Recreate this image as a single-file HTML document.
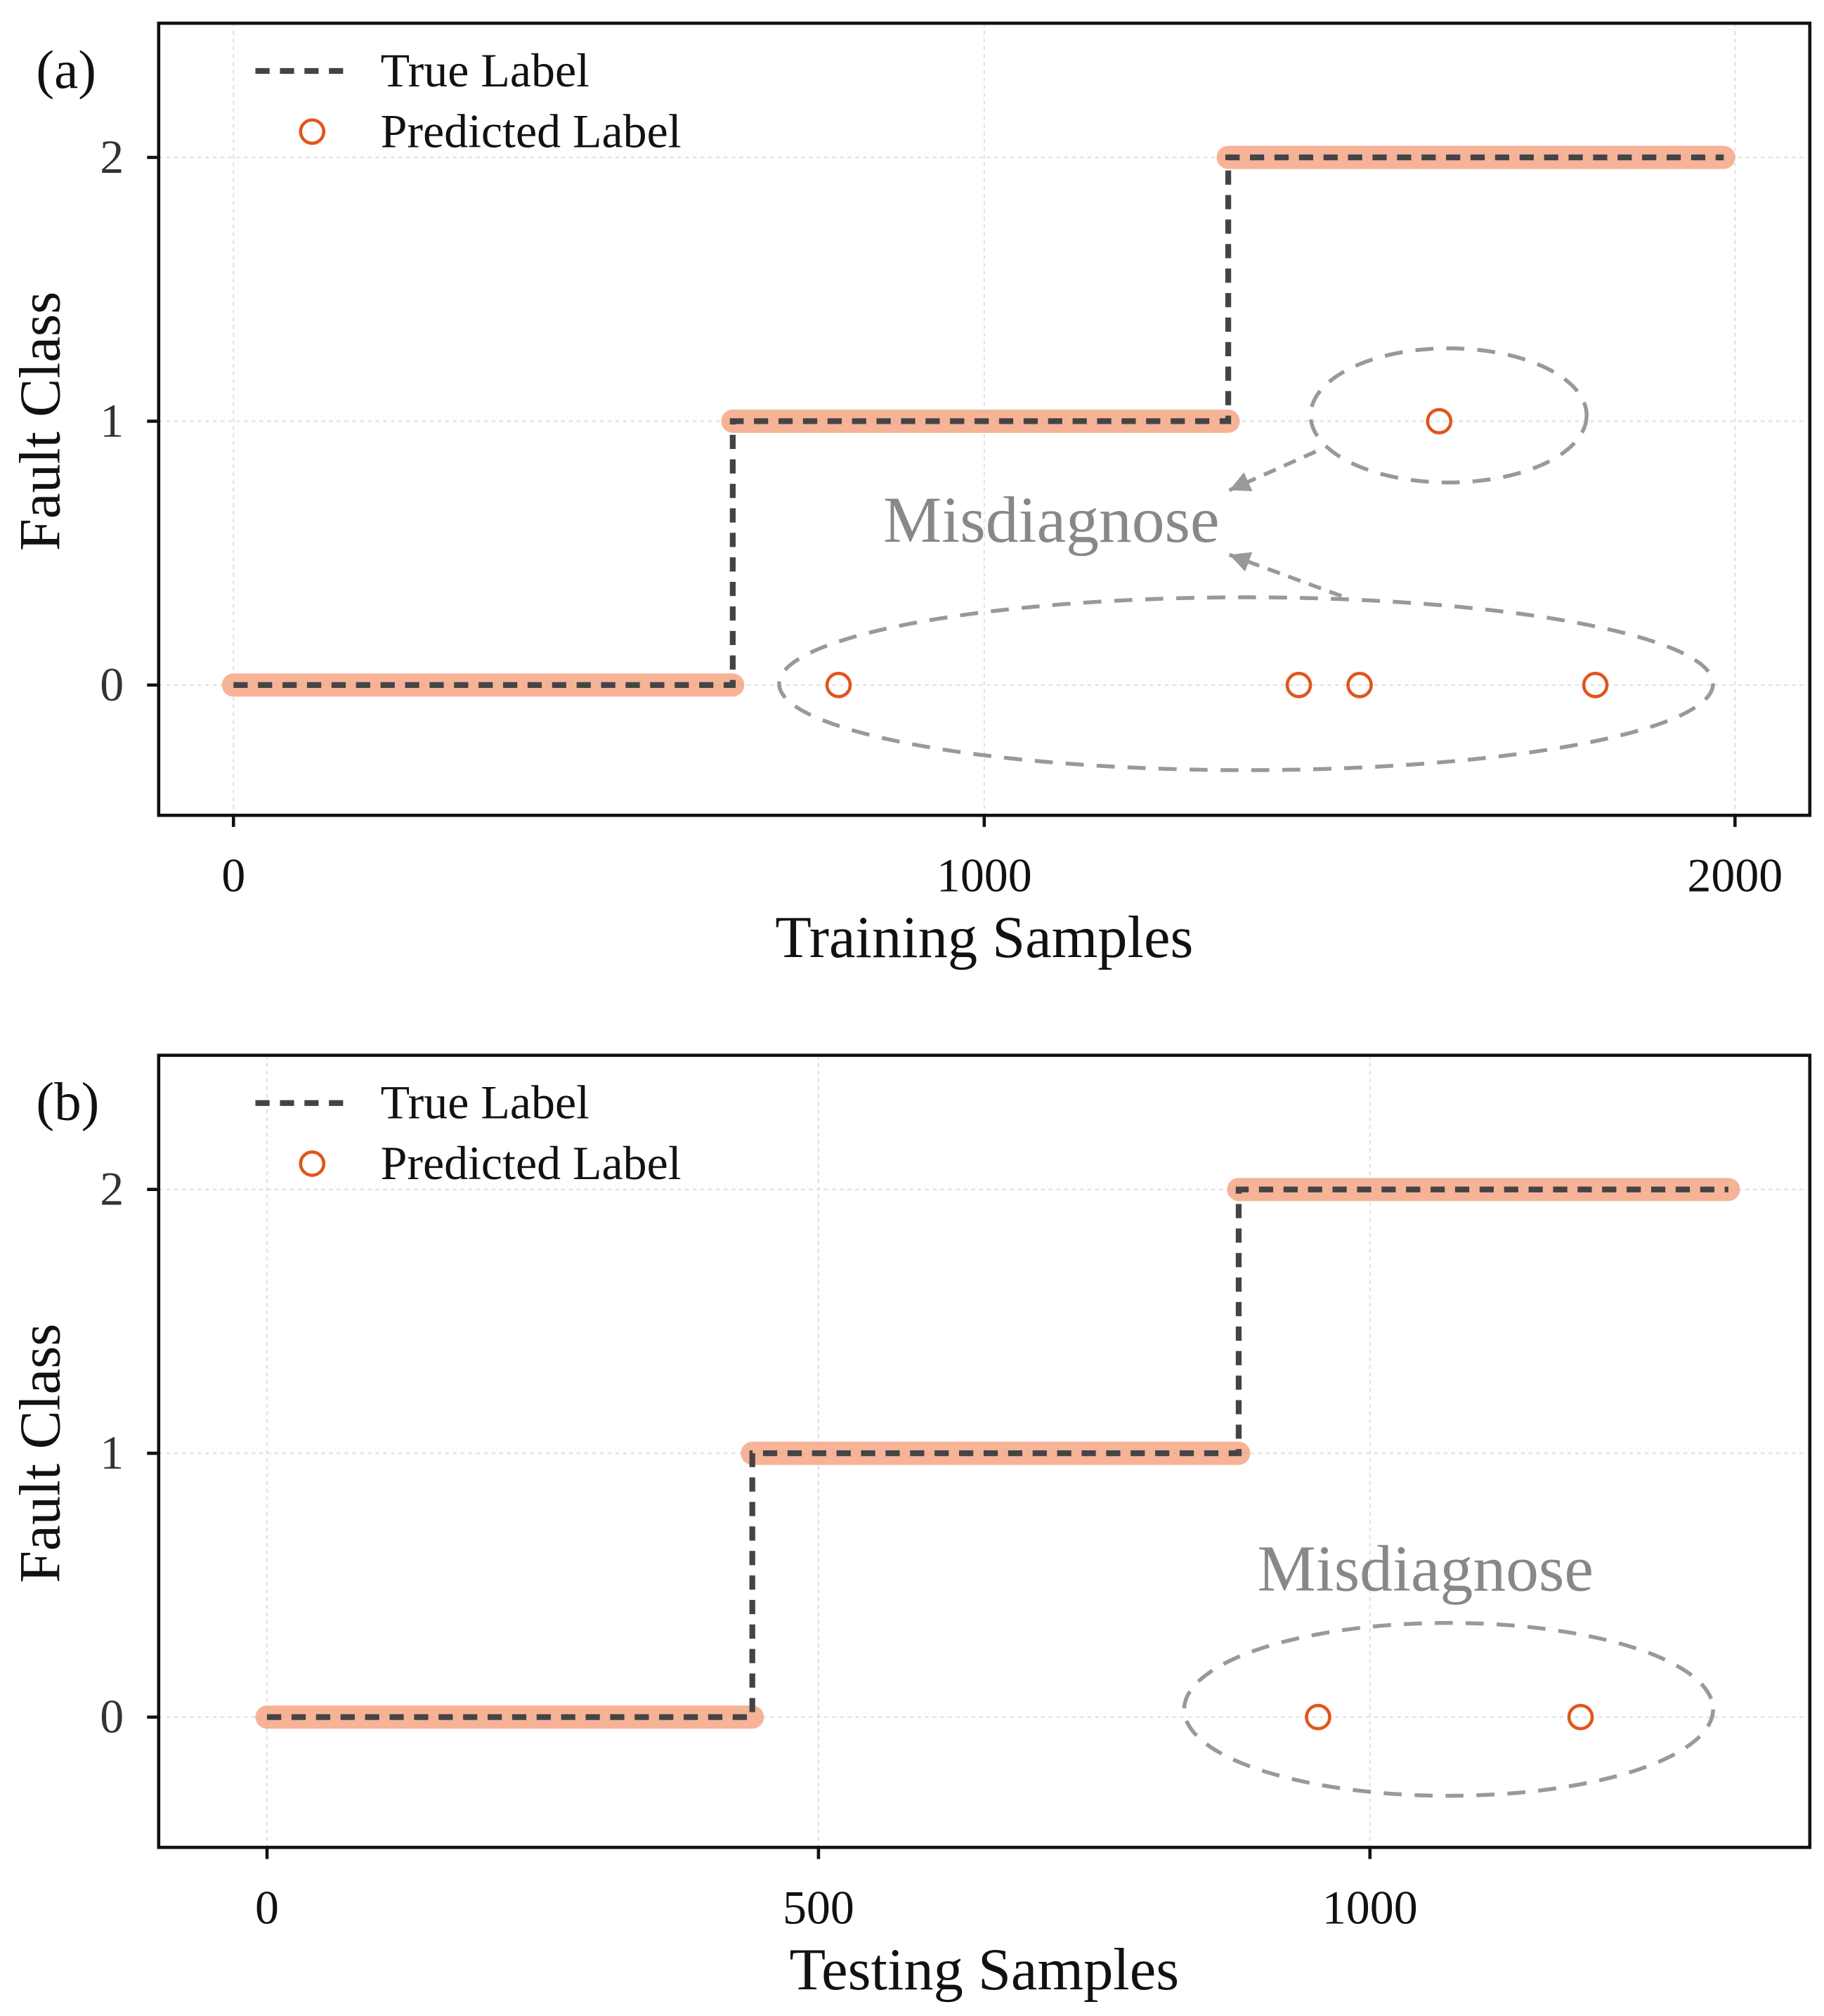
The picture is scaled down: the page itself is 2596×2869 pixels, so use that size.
<!DOCTYPE html>
<html><head><meta charset="utf-8"><style>html,body{margin:0;padding:0;background:#fff}svg{display:block}</style></head>
<body>
<svg id="fig" xmlns="http://www.w3.org/2000/svg" width="2596" height="2869" viewBox="0 0 1414 1562.7" preserveAspectRatio="none" font-family="Liberation Serif, serif"></svg>
<script>
const NS="http://www.w3.org/2000/svg";
const svg=document.getElementById('fig');
// Panel (a) data
const aSegStarts=[0,665,1325];
const aSegEnds=[665,1325,1985];
const aSegClass=[0,1,2];
const aMissX=[806,1419,1500,1814,1606];
const aMissY=[0,0,0,0,1];
const aXTicks=[0,1000,2000];
// Panel (b) data
const bSegStarts=[0,440,881];
const bSegEnds=[440,881,1325];
const bSegClass=[0,1,2];
const bMissX=[953,1191];
const bMissY=[0,0];
const bXTicks=[0,500,1000];
const yTicks=[0,1,2];

function el(tag,attrs,parent){const e=document.createElementNS(NS,tag);for(const k in attrs)e.setAttribute(k,attrs[k]);(parent||svg).appendChild(e);return e;}

function panel(o){
  const g=el('g',{});
  
  
  const X=v=>o.px0+(v-o.x0)*(o.px1-o.px0)/(o.x1-o.x0);
  const Y=v=>o.py0+(o.py0-o.py2)/2*(-v);
  o.xt.forEach(t=>{const l=el('line',{x1:X(t),x2:X(t),y1:o.top,y2:o.bot,stroke:'#ddd','stroke-width':1,'stroke-dasharray':'3 3'},g);});
  yTicks.forEach(t=>{const l=el('line',{x1:123,x2:1403,y1:Y(t),y2:Y(t),stroke:'#ddd','stroke-width':1,'stroke-dasharray':'3 3'},g);});
  for(let i=0;i<o.s.length;i++){
    const b=el('line',{x1:X(o.s[i]),x2:X(o.e[i]),y1:Y(o.c[i]),y2:Y(o.c[i]),stroke:'#f4a07e','stroke-opacity':0.8,'stroke-width':18,'stroke-linecap':'round'},g);
    
    
  }
  let d='';
  for(let i=0;i<o.s.length;i++){d+=(i?'L':'M')+X(o.s[i])+' '+Y(o.c[i])+' L'+X(o.e[i])+' '+Y(o.c[i])+' ';}
  const tl=el('path',{d:d,fill:'none',stroke:'#444','stroke-width':4.5,'stroke-dasharray':'11 8'},g);
  
  
  for(let i=0;i<o.mx.length;i++){
    const c=el('circle',{cx:X(o.mx[i]),cy:Y(o.my[i]),r:9,fill:'none',stroke:'#e0561b','stroke-width':2.5},g);
    
    
  }
  const f=el('rect',{x:123,y:o.top,width:1280,height:o.bot-o.top,fill:'none',stroke:'#111','stroke-width':2.5},g);
  
  
  o.xt.forEach(t=>{el('line',{x1:X(t),x2:X(t),y1:o.bot,y2:o.bot+9,stroke:'#111','stroke-width':2.5},g);
    const tx=el('text',{x:X(t),y:o.bot+59,'text-anchor':'middle','font-size':37,fill:'#111'},g);tx.textContent=t;
    });
  yTicks.forEach(t=>{el('line',{x1:114,x2:123,y1:Y(t),y2:Y(t),stroke:'#111','stroke-width':2.5},g);
    const tx=el('text',{x:96,y:Y(t)+12,'text-anchor':'end','font-size':37,fill:'#333'},g);tx.textContent=t;
    });
  const xt=el('text',{x:763,y:o.bot+110,'text-anchor':'middle','font-size':46,fill:'#111'},g);xt.textContent=o.xlabel;
  
  const yt=el('text',{x:0,y:0,'text-anchor':'middle','font-size':45,fill:'#111',transform:`translate(46 ${Y(1)}) rotate(-90)`},g);yt.textContent='Fault Class';
  
  const pl=el('text',{x:28,y:o.top+50,'font-size':42,fill:'#111'},g);pl.textContent=o.tag;
  
  const ll=el('line',{x1:198,x2:272,y1:o.top+37,y2:o.top+37,stroke:'#444','stroke-width':4.5,'stroke-dasharray':'11 8'},g);
  
  const lt=el('text',{x:295,y:o.top+49,'font-size':37,fill:'#111'},g);lt.textContent='True Label';
  
  const lc=el('circle',{cx:242,cy:o.top+84,r:9,fill:'none',stroke:'#e0561b','stroke-width':2.5},g);
  
  const lp=el('text',{x:295,y:o.top+96,'font-size':37,fill:'#111'},g);lp.textContent='Predicted Label';
  
  o.ell.forEach(e=>{const a=el('ellipse',{cx:e[0],cy:e[1],rx:e[2],ry:e[3],fill:'none',stroke:'#999','stroke-width':3,'stroke-dasharray':'14 10'},g);
    });
  const mt=el('text',{x:o.mt[0],y:o.mt[1],'text-anchor':'middle','font-size':51,fill:'#888'},g);mt.textContent='Misdiagnose';
  
  (o.arrows||[]).forEach(a=>{
    const ln=el('line',{x1:a[0],y1:a[1],x2:a[2],y2:a[3],stroke:'#999','stroke-width':3,'stroke-dasharray':'10 7'},g);
    
    const ang=Math.atan2(a[3]-a[1],a[2]-a[0]);const L=16,W=8;
    const bx=a[2]-L*Math.cos(ang),by=a[3]-L*Math.sin(ang);
    el('polygon',{points:`${a[2]},${a[3]} ${bx-W*Math.sin(ang)},${by+W*Math.cos(ang)} ${bx+W*Math.sin(ang)},${by-W*Math.cos(ang)}`,fill:'#999'},g);
  });
}
panel({name:'panel-a-training',tag:'(a)',top:18,bot:632,x0:0,x1:2000,px0:181,px1:1345,py0:531,py2:122,
  s:aSegStarts,e:aSegEnds,c:aSegClass,mx:aMissX,my:aMissY,xt:aXTicks,xlabel:'Training Samples',
  ell:[[1123,322,107,52],[966,530,362,67]],mt:[815,420],arrows:[[1020,350,953,380],[1040,462,953,430]]});
panel({name:'panel-b-testing',tag:'(b)',top:818,bot:1432,x0:0,x1:1000,px0:207,px1:1062,py0:1331,py2:922,
  s:bSegStarts,e:bSegEnds,c:bSegClass,mx:bMissX,my:bMissY,xt:bXTicks,xlabel:'Testing Samples',
  ell:[[1123,1325,205,67]],mt:[1105,1233]});
</script>
</body></html>
